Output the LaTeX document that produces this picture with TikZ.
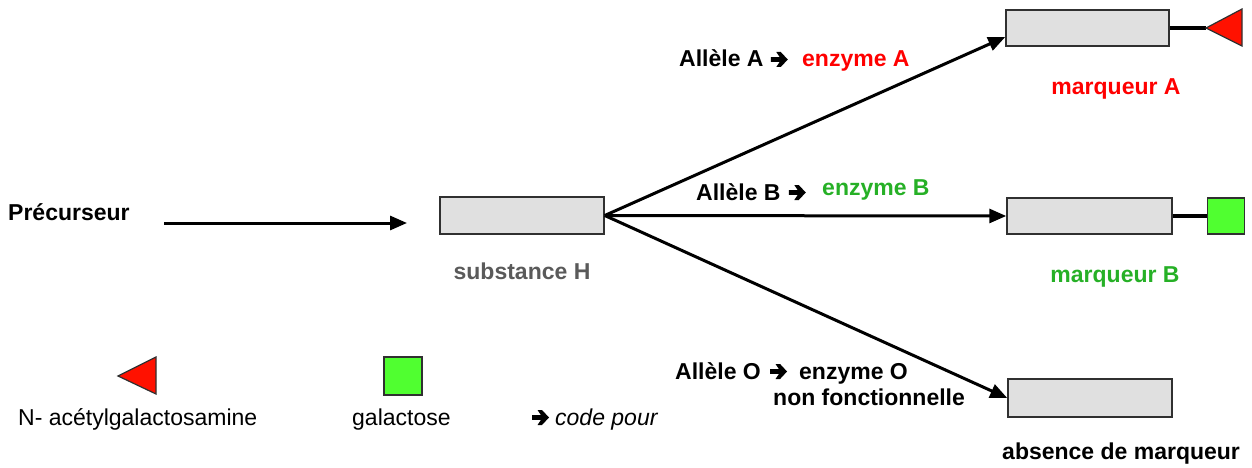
\documentclass[tikz,border=0pt]{standalone}
\usepackage{fontspec}
\setmainfont{Liberation Sans}
\usetikzlibrary{arrows.meta}

\definecolor{boxfill}{HTML}{E0E0E0}
\definecolor{boxline}{HTML}{303030}
\definecolor{txtred}{HTML}{FF0000}
\definecolor{txtgreen}{HTML}{26B026}
\definecolor{fillred}{HTML}{FF1100}
\definecolor{fillgreen}{HTML}{50FF30}
\definecolor{txtgray}{HTML}{5A5A5A}

\tikzset{
  molbox/.style={draw=boxline, line width=1.5pt, fill=boxfill, inner sep=0pt},
  lbl/.style={inner sep=0pt, font=\fontsize{23}{27}\selectfont\bfseries},
  lblreg/.style={inner sep=0pt, font=\fontsize{23}{27}\selectfont},
  flow/.style={line width=3pt, -{Triangle[length=17pt,width=14pt]}},
  link/.style={line width=3.5pt},
  sugarred/.style={draw=boxline, line width=1.2pt, fill=fillred, line join=miter},
  sugargreen/.style={draw=boxline, line width=1.5pt, fill=fillgreen, inner sep=0pt},
  % heavy wide-headed arrow meaning "codes for", origin on the text baseline
  codearrow/.pic={
    \fill[black] (0,-5.2) -- (9,-5.2) -- (5.5,0) -- (10,0) -- (17,-7.5)
      -- (10,-15) -- (5.5,-15) -- (9,-9.8) -- (0,-9.8) -- cycle;
  },
}

\begin{document}
\begin{tikzpicture}[x=1pt, y=-1pt]
  \useasboundingbox (0,0) rectangle (1252,468);

  % precursor and substance H
  \node[lbl, anchor=base west] (prec) at (8,220) {Précurseur};
  \coordinate (precstart) at (164,223);
  \coordinate (precend) at (407,223);
  \draw[flow] (precstart) -- (precend);

  \node[molbox, minimum width=164pt, minimum height=37pt] (subH) at (522,215.5) {};
  \node[lbl, text=txtgray, anchor=base] (subHlbl) at (522,279) {substance H};

  % the three products
  \node[molbox, minimum width=163pt, minimum height=36pt] (boxA) at (1087.5,28) {};
  \node[molbox, minimum width=165pt, minimum height=36pt] (boxB) at (1089.5,216) {};
  \node[molbox, minimum width=164pt, minimum height=38pt] (boxO) at (1090,398) {};

  % branches from substance H
  \draw[flow] (subH.east) -- ([yshift=-9pt]boxA.west);
  \draw[flow] (subH.east) -- (boxB.west);
  \draw[flow] (subH.east) -- (boxO.west);

  % marker A: N-acetylgalactosamine
  \coordinate (tipA) at (1206,28);
  \draw[link] (boxA.east) -- (tipA);
  \draw[sugarred] (tipA) -- (1242,9) -- (1242,46) -- cycle;

  % marker B: galactose
  \node[sugargreen, minimum width=37pt, minimum height=36pt] (sqB) at (1226,216) {};
  \draw[link] (boxB.east) -- (sqB.west);

  % allele labels
  \node[lbl, anchor=base west] (allA) at (679,67) {Allèle A};
  \pic at ([xshift=7pt]allA.base east) {codearrow};
  \node[lbl, text=txtred, anchor=base west] (enzA) at (802,67) {enzyme A};

  \node[lbl, anchor=base west] (allB) at (696,200) {Allèle B};
  \pic at ([xshift=8pt]allB.base east) {codearrow};
  \node[lbl, text=txtgreen, anchor=base west] (enzB) at (822,195) {enzyme B};

  \node[lbl, anchor=base west] (allO) at (675,379) {Allèle O};
  \pic at ([xshift=9pt]allO.base east) {codearrow};
  \node[lbl, anchor=base west] (enzO) at (799,379) {enzyme O};
  \node[lbl, anchor=base west] (nonf) at (773,405) {non fonctionnelle};

  % marker labels
  \node[lbl, text=txtred, anchor=base] (mkA) at (1116,95) {marqueur A};
  \node[lbl, text=txtgreen, anchor=base] (mkB) at (1115,282) {marqueur B};
  \node[lbl, anchor=base west] (mkO) at (1002,459) {absence de marqueur};

  % legend
  \draw[sugarred] (118,376) -- (156,357) -- (156,394) -- cycle;
  \node[lblreg, anchor=base west] (legA) at (18,425) {N- acétylgalactosamine};
  \node[sugargreen, minimum width=38pt, minimum height=38pt] (legsq) at (403,376) {};
  \node[lblreg, anchor=base west] (legB) at (352,425) {galactose};
  \coordinate (legarrow) at (532,425);
  \pic at (legarrow) {codearrow};
  \node[lblreg, anchor=base west] (legC) at (555,425) {\textit{code pour}};
\end{tikzpicture}
\end{document}
